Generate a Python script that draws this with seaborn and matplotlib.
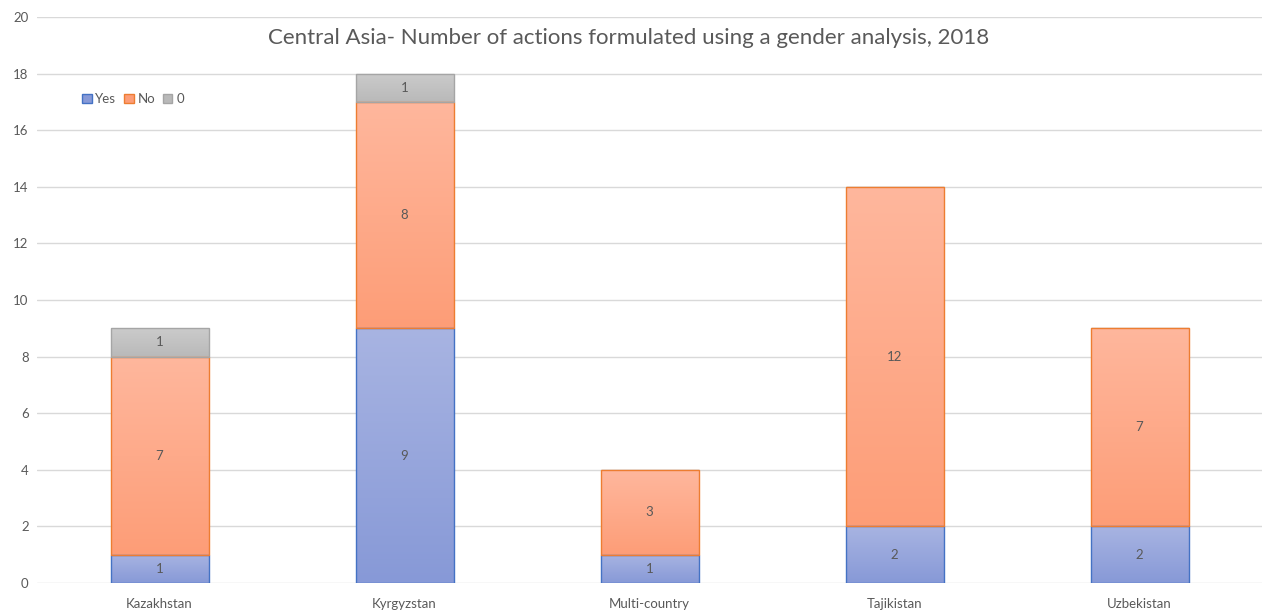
import matplotlib
matplotlib.use("Agg")
import matplotlib.pyplot as plt
from matplotlib.colors import LinearSegmentedColormap
import seaborn as sns
import numpy as np

countries = ["Kazakhstan", "Kyrgyzstan", "Multi-country", "Tajikistan", "Uzbekistan"]
yes = [1, 9, 1, 2, 2]
no = [7, 8, 3, 12, 7]
zero = [1, 1, 0, 0, 0]

sns.set_style("white")
plt.rcParams["font.family"] = ["Lato", "DejaVu Sans"]

fig = plt.figure(figsize=(12.63, 6.12), dpi=100)
ax = fig.add_axes([37 / 1263, 29 / 612, 1225 / 1263, 566 / 612])

# name, values, gradient top, gradient bottom, edge
series = [
    ("Yes", yes, "#a8b4e2", "#8799d7", "#4472c4"),
    ("No", no, "#ffb79d", "#fd9d77", "#ed7d31"),
    ("0", zero, "#cbcbcb", "#b9b9b9", "#a5a5a5"),
]
bottom = np.zeros(len(countries))
for name, vals, top_c, bot_c, ec in series:
    mid = "#" + "".join(f"{(int(top_c[i:i+2], 16) + int(bot_c[i:i+2], 16)) // 2:02x}" for i in (1, 3, 5))
    sns.barplot(x=countries, y=vals, bottom=bottom, color=mid, edgecolor=ec,
                linewidth=1, width=0.4, saturation=1, ax=ax, label=name, zorder=3)
    cont = ax.containers[-1]
    # vertical gradient fill, clipped to each bar
    cmap = LinearSegmentedColormap.from_list(name, [bot_c, top_c])
    grad = np.linspace(0, 1, 256).reshape(-1, 1)
    for p in cont.patches:
        if p.get_height() <= 0:
            continue
        x0, y0 = p.get_x(), p.get_y()
        im = ax.imshow(grad, cmap=cmap, origin="lower", aspect="auto",
                       extent=[x0, x0 + p.get_width(), y0, y0 + p.get_height()], zorder=3.5)
        im.set_clip_path(p)
        p.set_facecolor("none")
        p.set_zorder(4)
    labels = [str(v) if v > 0 else "" for v in vals]
    ax.bar_label(cont, labels=labels, label_type="center", color="#595959", fontsize=9.5, zorder=5)
    bottom = bottom + np.array(vals)

ax.set_xlim(-0.5, 4.5)
ax.set_ylim(0, 20)
ax.set_yticks(range(0, 21, 2))
ax.grid(axis="y", color="#d9d9d9", linewidth=1, zorder=0)
ax.set_axisbelow(True)
for s in ax.spines.values():
    s.set_visible(False)
ax.tick_params(axis="both", length=0, colors="#595959", labelsize=9.5)
ax.tick_params(axis="x", pad=11)
ax.tick_params(axis="y", pad=6)

fig.text(629 / 1263, 1 - 38 / 612, "Central Asia- Number of actions formulated using a gender analysis, 2018",
         ha="center", va="center", fontsize=16, color="#595959")

handles = [plt.Rectangle((0, 0), 1, 1, facecolor=s[3], edgecolor=s[4], linewidth=1) for s in series]
leg = ax.legend(handles, [s[0] for s in series], loc="upper left",
                bbox_to_anchor=(40 / 1225, (583 - 88) / 566), ncol=3, frameon=False,
                fontsize=9.5, handlelength=0.7, handleheight=0.7, handletextpad=0.3,
                columnspacing=0.6, labelcolor="#595959", borderaxespad=0)

fig.savefig("out.png", dpi=100, facecolor="white")
